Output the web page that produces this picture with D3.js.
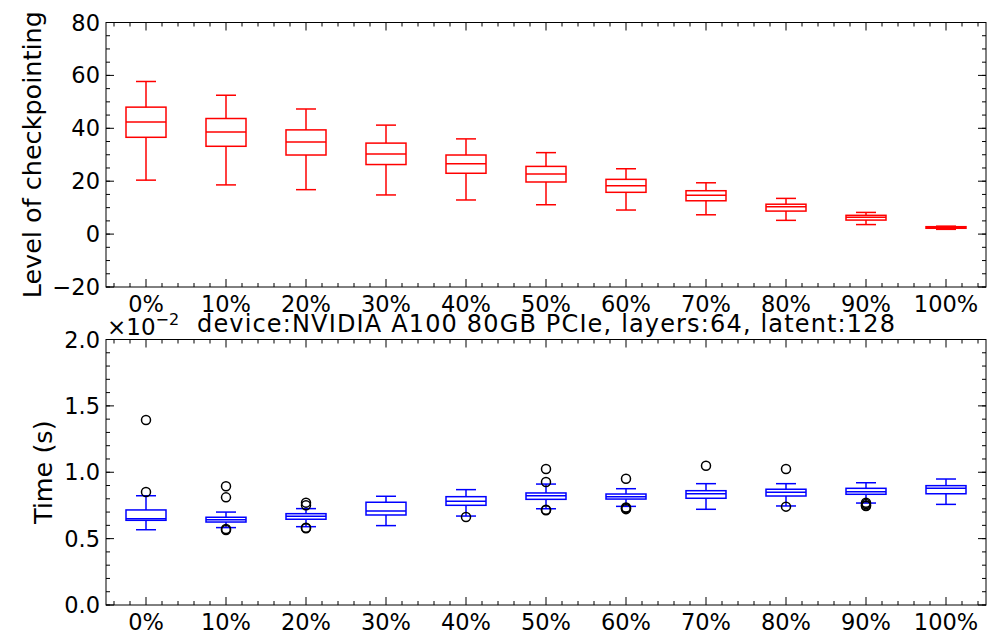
<!DOCTYPE html>
<html>
<head>
<meta charset="utf-8">
<script src="https://cdn.jsdelivr.net/npm/d3@7"></script>
<style>
	body { margin: 0; background: #fff; }
	svg text { font-family: "DejaVu Sans", sans-serif; fill: #000; }
</style>
</head>
<body>
<div id="chart"></div>
<script>
const categories = ['0%', '10%', '20%', '30%', '40%', '50%', '60%', '70%', '80%', '90%', '100%'];

// level of checkpointing, per category: [whisker low, q1, median, q3, whisker high]
const levelStats = [
	[20.4, 36.6, 42.4, 48.0, 57.7],
	[18.6, 33.2, 38.6, 43.7, 52.5],
	[16.8, 29.9, 34.8, 39.4, 47.3],
	[14.8, 26.3, 30.3, 34.4, 41.2],
	[12.9, 23.0, 26.6, 29.9, 36.0],
	[11.1, 19.7, 22.7, 25.6, 30.8],
	[9.1, 15.8, 18.3, 20.7, 24.7],
	[7.3, 12.6, 14.7, 16.4, 19.4],
	[5.2, 8.7, 10.3, 11.3, 13.5],
	[3.6, 5.3, 6.4, 7.1, 8.2],
	[1.8, 2.2, 2.5, 2.8, 3.0]
];

// time in units of 1e-2 s: [whisker low, q1, median, q3, whisker high]
const timeStats = [
	[0.567, 0.638, 0.650, 0.716, 0.823],
	[0.583, 0.625, 0.643, 0.661, 0.700],
	[0.590, 0.646, 0.668, 0.688, 0.726],
	[0.598, 0.678, 0.708, 0.774, 0.819],
	[0.670, 0.751, 0.781, 0.816, 0.869],
	[0.725, 0.796, 0.823, 0.844, 0.911],
	[0.743, 0.798, 0.816, 0.836, 0.876],
	[0.721, 0.804, 0.838, 0.861, 0.914],
	[0.746, 0.821, 0.849, 0.872, 0.914],
	[0.768, 0.834, 0.854, 0.879, 0.921],
	[0.758, 0.838, 0.879, 0.899, 0.949]
];

// time outliers (1e-2 s)
const timeOutliers = [
	[1.394, 0.851],
	[0.894, 0.811, 0.573, 0.565],
	[0.771, 0.751, 0.582, 0.578],
	[],
	[0.663],
	[1.024, 0.927, 0.718, 0.713],
	[0.951, 0.735, 0.728, 0.722],
	[1.049],
	[1.024, 0.741],
	[0.770, 0.760, 0.750, 0.745],
	[]
];

const levelTicks = [-20, 0, 20, 40, 60, 80];
const timeTicks = [0.0, 0.5, 1.0, 1.5, 2.0];

const width = 999, height = 634;
const left = 106, right = 986;

const svg = d3.select('#chart').append('svg')
	.attr('width', width)
	.attr('height', height);

const x = d3.scaleLinear().domain([0.5, categories.length + 0.5]).range([left, right]);

function drawPanel(opts) {
	const y = d3.scaleLinear().domain(opts.domain).range([opts.bottom, opts.top]);
	const g = svg.append('g');

	// minor / major ticks, inward on all four sides
	const xMinor = d3.range(0.6, categories.length + 0.5, 0.2).filter((v)=>Math.abs(v - Math.round(v)) > 0.01);
	const xMajor = categories.map((c, i)=>i + 1);
	const yMinor = d3.range(opts.domain[0], opts.domain[1] + 1e-9, opts.minorStep);

	const tickG = g.append('g').attr('stroke', '#000').attr('stroke-width', 1);
	xMinor.forEach((v)=>{
		tickG.append('line').attr('x1', x(v)).attr('x2', x(v)).attr('y1', opts.bottom).attr('y2', opts.bottom - 4);
		tickG.append('line').attr('x1', x(v)).attr('x2', x(v)).attr('y1', opts.top).attr('y2', opts.top + 4);
	});
	xMajor.forEach((v)=>{
		tickG.append('line').attr('x1', x(v)).attr('x2', x(v)).attr('y1', opts.bottom).attr('y2', opts.bottom - 8);
		tickG.append('line').attr('x1', x(v)).attr('x2', x(v)).attr('y1', opts.top).attr('y2', opts.top + 8);
	});
	yMinor.forEach((v)=>{
		tickG.append('line').attr('x1', left).attr('x2', left + 4).attr('y1', y(v)).attr('y2', y(v));
		tickG.append('line').attr('x1', right).attr('x2', right - 4).attr('y1', y(v)).attr('y2', y(v));
	});
	opts.ticks.forEach((v)=>{
		tickG.append('line').attr('x1', left).attr('x2', left + 8).attr('y1', y(v)).attr('y2', y(v));
		tickG.append('line').attr('x1', right).attr('x2', right - 8).attr('y1', y(v)).attr('y2', y(v));
	});

	// tick labels
	g.selectAll('text.ylab')
	.data(opts.ticks)
	.enter()
	.append('text')
	.attr('class', 'ylab')
	.attr('x', left - 6)
	.attr('y', (d)=>y(d) + 8)
	.attr('text-anchor', 'end')
	.style('font-size', '22.5px')
	.text(opts.format);

	g.selectAll('text.xlab')
	.data(categories)
	.enter()
	.append('text')
	.attr('class', 'xlab')
	.attr('x', (d, i)=>x(i + 1))
	.attr('y', opts.bottom + 25)
	.attr('text-anchor', 'middle')
	.style('font-size', '22.5px')
	.text((d)=>d);

	// boxes
	const boxes = g.selectAll('g.box')
	.data(opts.stats)
	.enter()
	.append('g')
	.attr('class', 'box')
	.attr('fill', 'none')
	.attr('stroke', opts.color)
	.attr('stroke-width', 1.5);

	const halfBox = 20, halfCap = 10;
	boxes.append('rect')
	.attr('x', (d, i)=>x(i + 1) - halfBox)
	.attr('width', halfBox * 2)
	.attr('y', (d)=>y(d[3]))
	.attr('height', (d)=>y(d[1]) - y(d[3]));
	boxes.append('line')
	.attr('x1', (d, i)=>x(i + 1) - halfBox)
	.attr('x2', (d, i)=>x(i + 1) + halfBox)
	.attr('y1', (d)=>y(d[2]))
	.attr('y2', (d)=>y(d[2]));
	boxes.append('line')
	.attr('x1', (d, i)=>x(i + 1)).attr('x2', (d, i)=>x(i + 1))
	.attr('y1', (d)=>y(d[3])).attr('y2', (d)=>y(d[4]));
	boxes.append('line')
	.attr('x1', (d, i)=>x(i + 1)).attr('x2', (d, i)=>x(i + 1))
	.attr('y1', (d)=>y(d[1])).attr('y2', (d)=>y(d[0]));
	[0, 4].forEach((k)=>{
		boxes.append('line')
		.attr('x1', (d, i)=>x(i + 1) - halfCap)
		.attr('x2', (d, i)=>x(i + 1) + halfCap)
		.attr('y1', (d)=>y(d[k]))
		.attr('y2', (d)=>y(d[k]));
	});

	// outliers
	if(opts.outliers) {
		opts.outliers.forEach((list, i)=>{
			g.selectAll(null)
			.data(list)
			.enter()
			.append('circle')
			.attr('cx', x(i + 1))
			.attr('cy', (d)=>y(d))
			.attr('r', 4.5)
			.attr('fill', 'none')
			.attr('stroke', '#000')
			.attr('stroke-width', 1.5);
		});
	}

	// frame
	g.append('rect')
	.attr('x', left).attr('y', opts.top)
	.attr('width', right - left).attr('height', opts.bottom - opts.top)
	.attr('fill', 'none').attr('stroke', '#000').attr('stroke-width', 1);

	// y axis title
	g.append('text')
	.attr('transform', `translate(${opts.labelX},${(opts.top + opts.bottom) / 2}) rotate(-90)`)
	.attr('text-anchor', 'middle')
	.style('font-size', '25.5px')
	.text(opts.label);

	return y;
}

drawPanel({
	top: 22.5, bottom: 287,
	domain: [-20, 80], minorStep: 5,
	ticks: levelTicks,
	format: (d)=>d < 0 ? '\u2212' + Math.abs(d) : String(d),
	stats: levelStats,
	color: '#ff0000',
	label: 'Level of checkpointing',
	labelX: 41
});

drawPanel({
	top: 339.5, bottom: 605,
	domain: [0, 2], minorStep: 0.1,
	ticks: timeTicks,
	format: d3.format('.1f'),
	stats: timeStats,
	outliers: timeOutliers,
	color: '#0000ff',
	label: 'Time (s)',
	labelX: 52
});

// offset text and title for the lower panel
const offset = svg.append('text')
	.attr('x', 107)
	.attr('y', 335)
	.style('font-size', '23px');
offset.append('tspan').text('\u00d710');
offset.append('tspan').attr('dy', -10).style('font-size', '16px').text('\u22122');

svg.append('text')
	.attr('x', 197)
	.attr('y', 332)
	.attr('textLength', 698)
	.attr('lengthAdjust', 'spacing')
	.style('font-size', '24px')
	.text('device:NVIDIA A100 80GB PCIe, layers:64, latent:128');
</script>
</body>
</html>
